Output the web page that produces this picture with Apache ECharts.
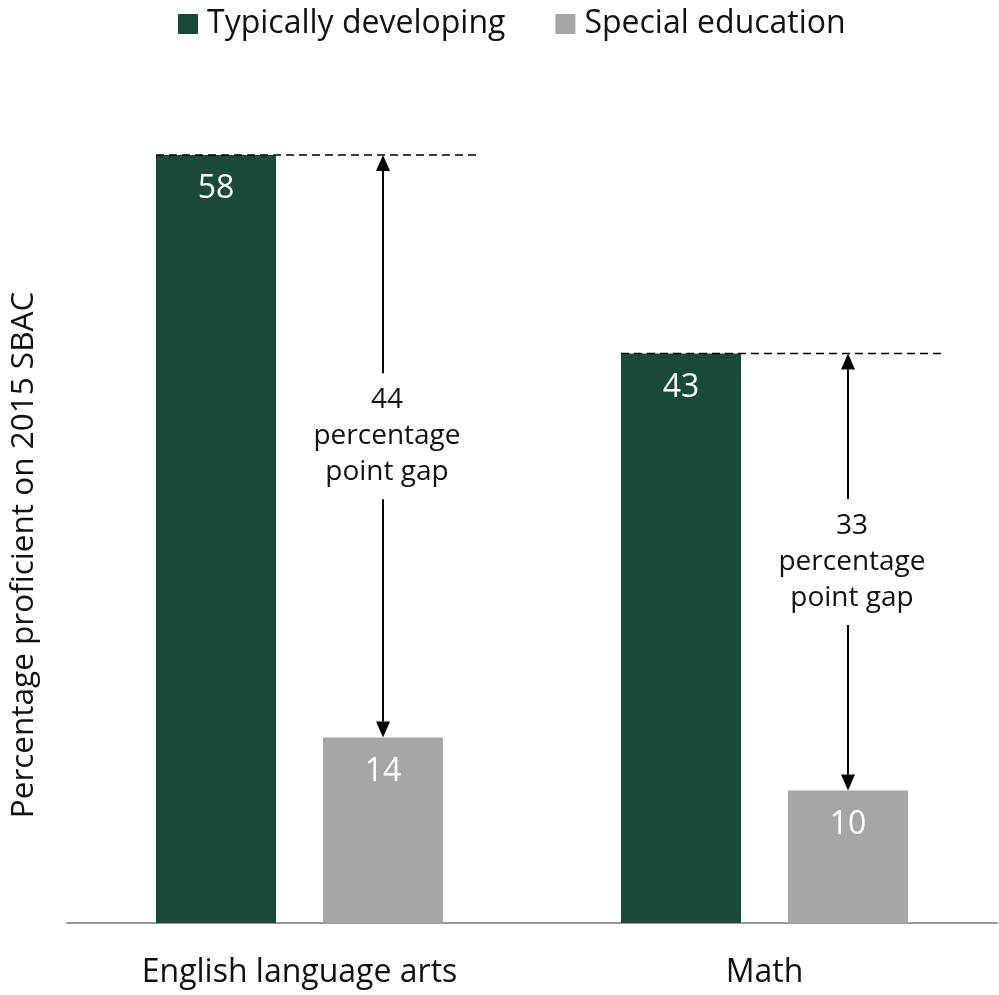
<!DOCTYPE html>
<html>
<head>
<meta charset="utf-8">
<script src="https://cdn.jsdelivr.net/npm/echarts@6/dist/echarts.min.js"></script>
<style>
  html, body { margin: 0; padding: 0; background: #fff; }
  #chart { width: 999px; height: 995px; }
</style>
</head>
<body>
<div id="chart"></div>
<script>
// Proficiency on the 2015 SBAC, by subject and student group
const subjects = ['English language arts', 'Math'];
const seriesNames = ['Typically developing', 'Special education'];
const typicalValues = [58, 43];
const specialValues = [14, 10];
const gapLabels = ['44\npercentage\npoint gap', '33\npercentage\npoint gap'];

const GREEN = '#1a4a37';
const GREY = '#a6a6a6';
const FONT = '"Open Sans", "Noto Sans", sans-serif';

const BAR_W = 120;
const BAR_GAP = 47;

const chart = echarts.init(document.getElementById('chart'), null, { renderer: 'canvas' });

// Each gap item: [category index, typical value, special value, label index]
const gapData = subjects.map((s, i) => [i, typicalValues[i], specialValues[i], i]);

function renderGap(params, api) {
  const idx = api.value(0);
  const topVal = api.value(1);
  const botVal = api.value(2);
  const band = api.size([1, 0])[0];
  const topPt = api.coord([idx, topVal]);
  const botPt = api.coord([idx, botVal]);
  const cx = topPt[0];
  const half = (BAR_W + BAR_GAP) / 2;
  const leftEdge = cx - half - BAR_W / 2;
  const arrowX = cx + half;
  const dashEnd = cx + band * 0.38;
  const yTop = topPt[1];
  const yBot = botPt[1];
  const midY = (yTop + yBot) / 2 - 10;
  const textHalf = 63;
  const head = 16, headW = 7;
  return {
    type: 'group',
    children: [
      { type: 'line', shape: { x1: leftEdge, y1: yTop, x2: dashEnd, y2: yTop },
        style: { stroke: '#000', lineWidth: 1.5, lineDash: [8, 5] } },
      { type: 'line', shape: { x1: arrowX, y1: yTop + head, x2: arrowX, y2: midY - textHalf },
        style: { stroke: '#000', lineWidth: 2 } },
      { type: 'line', shape: { x1: arrowX, y1: midY + textHalf, x2: arrowX, y2: yBot - head },
        style: { stroke: '#000', lineWidth: 2 } },
      { type: 'polygon', shape: { points: [[arrowX, yTop], [arrowX - headW, yTop + head], [arrowX + headW, yTop + head]] },
        style: { fill: '#000' } },
      { type: 'polygon', shape: { points: [[arrowX, yBot], [arrowX - headW, yBot - head], [arrowX + headW, yBot - head]] },
        style: { fill: '#000' } },
      { type: 'text', x: arrowX + 4, y: midY,
        style: { text: gapLabels[api.value(3)], fill: '#111', font: '400 28px ' + FONT,
          align: 'center', verticalAlign: 'middle', lineHeight: 36 } }
    ]
  };
}

const option = {
  backgroundColor: '#fff',
  animation: false,
  textStyle: { fontFamily: FONT },
  legend: {
    top: 3,
    left: 173,
    itemWidth: 20,
    itemHeight: 20,
    itemGap: 50,
    icon: 'rect',
    textStyle: { fontSize: 32, color: '#111', fontFamily: FONT, padding: [0, 0, 0, 4] },
    data: seriesNames
  },
  grid: { left: 65, right: 2, top: 155, bottom: 72, containLabel: false },
  xAxis: {
    type: 'category',
    data: subjects,
    axisLine: { lineStyle: { color: '#999', width: 2 } },
    axisTick: { show: false },
    axisLabel: { fontSize: 32, color: '#111', margin: 34, fontFamily: FONT }
  },
  yAxis: {
    type: 'value',
    min: 0,
    max: 58,
    axisLine: { show: false },
    axisTick: { show: false },
    axisLabel: { show: false },
    splitLine: { show: false },
    name: 'Percentage proficient on 2015 SBAC',
    nameLocation: 'middle',
    nameGap: 27,
    nameTextStyle: { fontSize: 31.5, color: '#111', fontFamily: FONT, padding: [0, 32, 0, 0] }
  },
  series: [
    {
      name: seriesNames[0], type: 'bar', data: typicalValues,
      barWidth: BAR_W, barGap: (BAR_GAP / BAR_W * 100) + '%',
      itemStyle: { color: GREEN },
      label: { show: true, position: 'insideTop', distance: 18, color: '#fff', fontSize: 32, fontFamily: FONT }
    },
    {
      name: seriesNames[1], type: 'bar', data: specialValues,
      barWidth: BAR_W,
      itemStyle: { color: GREY },
      label: { show: true, position: 'insideTop', distance: 18, color: '#fff', fontSize: 32, fontFamily: FONT }
    },
    {
      type: 'custom', name: 'gap', data: gapData, renderItem: renderGap,
      encode: { x: 0, y: [1, 2] }, silent: true, z: 5
    }
  ]
};

chart.setOption(option);
</script>
</body>
</html>
